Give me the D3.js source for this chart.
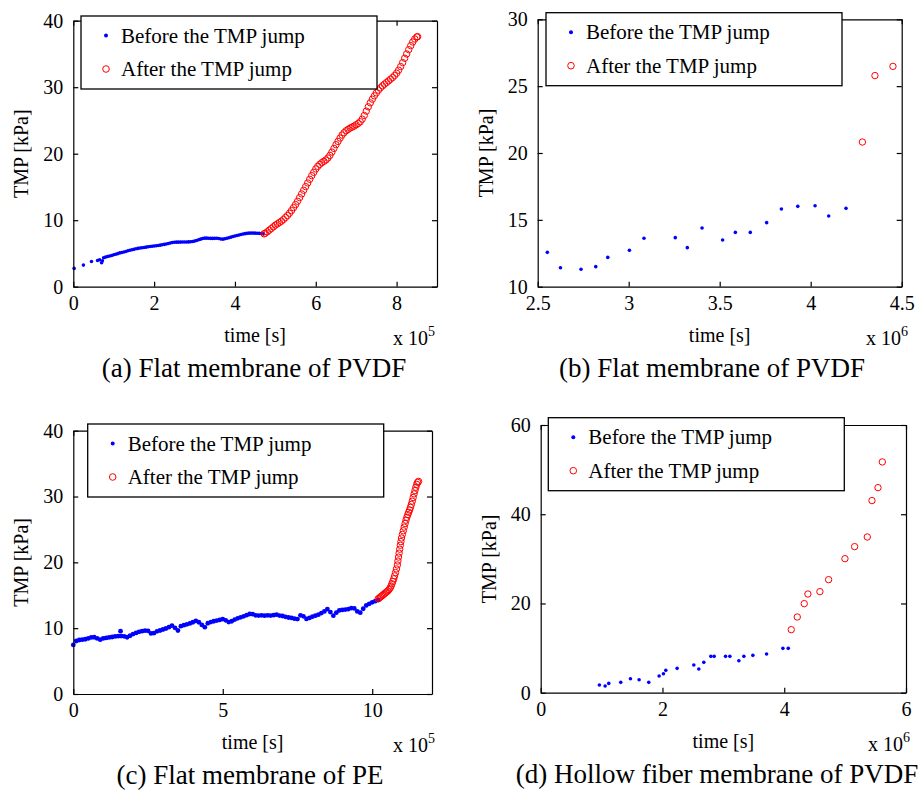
<!DOCTYPE html>
<html><head><meta charset="utf-8">
<script src="https://cdn.jsdelivr.net/npm/d3@7"></script>
<style>
body{margin:0;background:#fff}
svg{display:block}
text{font-family:"Liberation Serif","Times New Roman",serif;fill:#000}
</style>
</head><body>
<svg id="chart" width="921" height="790"></svg>
<script>
// ---------- text ----------
const legendLabels = ["Before the TMP jump", "After the TMP jump"];
const xAxisLabel = "time [s]";
const yAxisLabel = "TMP [kPa]";
const captions = ["(a) Flat membrane of PVDF", "(b) Flat membrane of PVDF",
                  "(c) Flat membrane of PE", "(d) Hollow fiber membrane of PVDF"];
const exponents = ["5", "6", "5", "6"];

// ---------- ticks ----------
const xTicksA = [0, 2, 4, 6, 8],          yTicksA = [0, 10, 20, 30, 40];
const xTicksB = [2.5, 3, 3.5, 4, 4.5],    yTicksB = [10, 15, 20, 25, 30];
const xTicksC = [0, 5, 10],               yTicksC = [0, 10, 20, 30, 40];
const xTicksD = [0, 2, 4, 6],             yTicksD = [0, 20, 40, 60];
const xDomainA = [0, 9],   yDomainA = [0, 40];
const xDomainB = [2.5, 4.5], yDomainB = [10, 30];
const xDomainC = [0, 12],  yDomainC = [0, 40];
const xDomainD = [0, 6],   yDomainD = [0, 60];

// ---------- data: [time, TMP] ----------
const beforeA = [[0.02,2.75],[0.25,3.25],[0.45,3.8],[0.6,3.95],[0.65,4.05],[0.7,3.6],[0.72,3.9],
[0.75,4.35],[0.80,4.45],[0.85,4.55],[0.90,4.62],[0.95,4.70],[1.00,4.80],[1.05,4.88],[1.10,4.98],
[1.15,5.08],[1.20,5.15],[1.25,5.22],[1.30,5.30],[1.35,5.40],[1.40,5.48],[1.45,5.55],[1.50,5.62],
[1.55,5.70],[1.60,5.76],[1.65,5.82],[1.70,5.86],[1.75,5.90],[1.80,5.95],[1.85,6.00],[1.90,6.04],
[1.95,6.08],[2.00,6.12],[2.05,6.15],[2.10,6.20],[2.15,6.25],[2.20,6.30],[2.25,6.36],[2.30,6.42],
[2.35,6.50],[2.40,6.58],[2.45,6.64],[2.50,6.68],[2.55,6.70],[2.60,6.70],[2.65,6.71],[2.70,6.72],
[2.75,6.72],[2.80,6.72],[2.85,6.74],[2.90,6.76],[2.95,6.80],[3.00,6.86],[3.05,6.94],[3.10,7.05],
[3.15,7.15],[3.20,7.25],[3.25,7.30],[3.30,7.30],[3.35,7.28],[3.40,7.26],[3.45,7.26],[3.50,7.27],
[3.55,7.28],[3.60,7.25],[3.65,7.18],[3.70,7.15],[3.75,7.20],[3.80,7.28],[3.85,7.36],[3.90,7.45],
[3.95,7.55],[4.00,7.62],[4.05,7.70],[4.10,7.78],[4.15,7.85],[4.20,7.92],[4.25,7.98],[4.30,8.02],
[4.35,8.05],[4.40,8.06],[4.45,8.06],[4.50,8.05],[4.55,8.04],[4.60,8.02],[4.65,8.00],[4.70,7.95]];

const afterA = [[4.72,7.95],[4.75,8.05],[4.80,8.25],[4.85,8.50],[4.90,8.75],[4.95,9.00],[5.00,9.25],
[5.05,9.45],[5.10,9.65],[5.15,9.85],[5.20,10.10],[5.25,10.40],[5.30,10.70],[5.35,11.05],[5.40,11.45],
[5.45,11.90],[5.50,12.35],[5.55,12.85],[5.60,13.40],[5.65,13.95],[5.70,14.50],[5.75,15.05],[5.80,15.60],
[5.85,16.15],[5.90,16.70],[5.95,17.20],[6.00,17.70],[6.05,18.10],[6.10,18.40],[6.15,18.65],[6.20,18.85],
[6.25,19.05],[6.30,19.35],[6.35,19.75],[6.40,20.25],[6.45,20.80],[6.50,21.35],[6.55,21.85],[6.60,22.35],
[6.65,22.80],[6.70,23.15],[6.75,23.45],[6.80,23.65],[6.85,23.85],[6.90,24.00],[6.95,24.15],[7.00,24.35],
[7.05,24.55],[7.10,24.80],[7.15,25.20],[7.20,25.75],[7.25,26.40],[7.30,27.05],[7.35,27.65],[7.40,28.20],
[7.45,28.70],[7.50,29.15],[7.55,29.55],[7.60,29.90],[7.65,30.20],[7.70,30.45],[7.75,30.70],[7.80,30.95],
[7.85,31.20],[7.90,31.45],[7.95,31.75],[8.00,32.10],[8.05,32.55],[8.10,33.10],[8.15,33.70],[8.20,34.35],
[8.25,35.00],[8.30,35.65],[8.35,36.25],[8.40,36.80],[8.45,37.25],[8.50,37.55],[8.52,37.60]];

const beforeB = [[2.553,12.57],[2.625,11.42],[2.738,11.30],[2.819,11.50],[2.885,12.19],[3.004,12.72],
[3.084,13.62],[3.256,13.67],[3.322,12.92],[3.403,14.39],[3.516,13.49],[3.586,14.06],[3.668,14.06],
[3.758,14.79],[3.839,15.81],[3.929,16.01],[4.024,16.06],[4.099,15.29],[4.194,15.86]];
const afterB = [[4.284,20.82],[4.353,25.79],[4.452,26.48]];

const beforeC = [[0.0,7.46],[0.1,8.05],[0.2,8.20],[0.3,8.25],[0.4,8.32],[0.5,8.45],[0.6,8.60],[0.7,8.62],
[0.8,8.45],[0.9,8.25],[1.0,8.45],[1.1,8.52],[1.2,8.60],[1.3,8.66],[1.4,8.74],[1.5,8.78],[1.58,9.54],[1.6,8.80],
[1.7,8.76],[1.8,8.62],[1.9,8.85],[2.0,9.10],[2.1,9.28],[2.2,9.45],[2.3,9.55],[2.4,9.62],[2.5,9.60],
[2.6,9.20],[2.7,9.25],[2.8,9.52],[2.9,9.65],[3.0,9.80],[3.1,9.95],[3.2,10.15],[3.3,10.40],[3.4,10.05],
[3.5,9.65],[3.6,10.30],[3.7,10.45],[3.8,10.58],[3.9,10.72],[4.0,10.90],[4.1,11.10],[4.2,10.90],
[4.3,10.50],[4.4,10.15],[4.5,10.75],[4.6,10.92],[4.7,11.05],[4.8,11.15],[4.9,11.25],[5.0,11.38],
[5.1,11.20],[5.2,10.92],[5.3,11.05],[5.4,11.30],[5.5,11.50],[5.6,11.65],[5.7,11.80],[5.8,11.98],
[5.9,12.15],[6.0,12.12],[6.1,11.95],[6.2,11.92],[6.3,11.95],[6.4,11.90],[6.5,11.95],[6.6,11.92],
[6.7,11.98],[6.8,12.05],[6.9,11.92],[7.0,11.85],[7.1,11.72],[7.2,11.62],[7.3,11.55],[7.4,11.45],
[7.5,11.38],[7.6,11.95],[7.7,11.80],[7.8,11.40],[7.9,11.55],[8.0,11.75],[8.1,11.90],[8.2,12.05],
[8.3,12.30],[8.4,12.55],[8.5,12.90],[8.6,12.45],[8.7,11.90],[8.8,12.35],[8.9,12.70],[9.0,12.78],
[9.1,12.82],[9.2,12.88],[9.3,13.05],[9.4,13.00],[9.5,12.55],[9.6,12.35],[9.7,12.95],[9.8,13.45],
[9.9,13.70],[10.0,13.92],[10.1,14.10],[10.2,14.30]];

const afterC = [[10.20,14.45],[10.24,14.60],[10.28,14.75],[10.32,14.90],[10.36,15.05],[10.40,15.20],
[10.44,15.35],[10.48,15.50],[10.52,15.65],[10.56,15.85],[10.60,16.10],[10.63,16.40],[10.66,16.75],
[10.69,17.10],[10.72,17.50],[10.75,17.95],[10.78,18.45],[10.81,19.00],[10.84,19.60],[10.86,20.20],
[10.88,20.80],[10.90,21.40],[10.92,22.00],[10.94,22.60],[10.96,23.15],[10.98,23.70],[11.01,24.25],
[11.04,24.80],[11.07,25.35],[11.10,25.90],[11.13,26.40],[11.16,26.85],[11.19,27.25],[11.22,27.60],
[11.25,27.95],[11.28,28.35],[11.31,28.80],[11.34,29.30],[11.37,29.85],[11.40,30.40],[11.43,30.90],
[11.46,31.40],[11.49,31.85],[11.52,32.15],[11.55,32.30]];

const beforeD = [[0.964,1.72],[1.058,1.49],[1.118,2.09],[1.315,2.32],[1.474,3.14],[1.616,2.91],
[1.775,2.32],[1.945,3.74],[2.016,4.26],[2.055,5.01],[2.241,5.46],[2.515,6.20],[2.597,5.31],
[2.679,6.80],[2.795,8.15],[2.849,8.15],[3.036,8.15],[3.107,8.15],[3.255,7.17],[3.337,8.15],
[3.485,8.37],[3.710,8.67],[3.978,9.94],[4.066,9.94]];
const afterD = [[4.115,14.13],[4.214,16.97],[4.329,19.96],[4.389,22.12],[4.586,22.65],[4.729,25.34],
[4.997,30.04],[5.156,32.74],[5.364,34.90],[5.441,43.05],[5.540,45.96],[5.611,51.72]];

// ---------- layout ----------
const panels = [
  {x0:73.3, x1:437,  y0:20.7, y1:286.7, xd:xDomainA, yd:yDomainA, xt:xTicksA, yt:yTicksA, b:beforeA, a:afterA, lx:81,    ly:16,    cap:254, ex:393, rb:1.8},
  {x0:537.7,x1:901.7,y0:19.3, y1:286.7, xd:xDomainB, yd:yDomainB, xt:xTicksB, yt:yTicksB, b:beforeB, a:afterB, lx:546,   ly:12.7,  cap:712, ex:866, rb:1.8},
  {x0:73.3, x1:432,  y0:430.7,y1:694,   xd:xDomainC, yd:yDomainC, xt:xTicksC, yt:yTicksC, b:beforeC, a:afterC, lx:87.7,  ly:424,   cap:250, ex:393, rb:2.4},
  {x0:540.7,x1:906,  y0:425,  y1:692.7, xd:xDomainD, yd:yDomainD, xt:xTicksD, yt:yTicksD, b:beforeD, a:afterD, lx:548.3, ly:417.7, cap:717, ex:868, rb:1.8}
];

const svg = d3.select("#chart");
const FONT = "Liberation Serif, Times New Roman, serif";

panels.forEach((p, i) => {
  const g = svg.append("g");
  const x = d3.scaleLinear().domain(p.xd).range([p.x0, p.x1]);
  const y = d3.scaleLinear().domain(p.yd).range([p.y1, p.y0]);

  // data
  g.append("g").selectAll("circle").data(p.b).join("circle")
    .attr("cx", d => x(d[0])).attr("cy", d => y(d[1])).attr("r", p.rb).attr("fill", "#0000ff");
  g.append("g").selectAll("circle").data(p.a).join("circle")
    .attr("cx", d => x(d[0])).attr("cy", d => y(d[1])).attr("r", 3.2)
    .attr("fill", "none").attr("stroke", "#ff0000").attr("stroke-width", 1);

  const tl = 5;
  const styleAxis = sel => {
    sel.attr("font-family", FONT).attr("font-size", 20);
    sel.selectAll("path,line").attr("stroke", "#000").attr("stroke-width", 1.2);
    sel.selectAll("text").attr("fill", "#000");
  };
  g.append("g").attr("transform", `translate(0,${p.y1})`)
    .call(d3.axisBottom(x).tickValues(p.xt).tickFormat(d => String(d)).tickSizeInner(-tl).tickSizeOuter(0).tickPadding(9))
    .call(styleAxis);
  g.append("g").attr("transform", `translate(0,${p.y0})`)
    .call(d3.axisTop(x).tickValues(p.xt).tickFormat("").tickSizeInner(-tl).tickSizeOuter(0))
    .call(styleAxis);
  g.append("g").attr("transform", `translate(${p.x0},0)`)
    .call(d3.axisLeft(y).tickValues(p.yt).tickFormat(d => String(d)).tickSizeInner(-tl).tickSizeOuter(0).tickPadding(10))
    .call(styleAxis);
  g.append("g").attr("transform", `translate(${p.x1},0)`)
    .call(d3.axisRight(y).tickValues(p.yt).tickFormat("").tickSizeInner(-tl).tickSizeOuter(0))
    .call(styleAxis);

  // axis labels
  g.append("text").attr("x", (p.x0 + p.x1) / 2).attr("y", p.y1 + 55)
    .attr("text-anchor", "middle").attr("font-size", 20).text(xAxisLabel);
  g.append("text").attr("transform", `translate(${p.x0 - 45},${(p.y0 + p.y1) / 2}) rotate(-90)`)
    .attr("text-anchor", "middle").attr("font-size", 20).text(yAxisLabel);
  const ex = g.append("text").attr("x", p.ex).attr("y", p.y1 + 58).attr("font-size", 20);
  ex.append("tspan").text("x 10");
  ex.append("tspan").attr("font-size", 14).attr("dy", -9).text(exponents[i]);

  // caption
  g.append("text").attr("x", p.cap).attr("y", p.y1 + 90)
    .attr("text-anchor", "middle").attr("font-size", 27).text(captions[i]);

  // legend
  const lg = g.append("g").attr("transform", `translate(${p.lx},${p.ly})`);
  lg.append("rect").attr("width", 296).attr("height", 73)
    .attr("fill", "#fff").attr("stroke", "#000").attr("stroke-width", 1.3);
  const rows = [19.5, 53];
  lg.append("circle").attr("cx", 25).attr("cy", rows[0]).attr("r", 2).attr("fill", "#0000ff");
  lg.append("circle").attr("cx", 25).attr("cy", rows[1]).attr("r", 3.3)
    .attr("fill", "none").attr("stroke", "#ff0000").attr("stroke-width", 1);
  legendLabels.forEach((t, k) => {
    lg.append("text").attr("x", 40).attr("y", rows[k] + 7).attr("font-size", 21).text(t);
  });
});
</script>
</body></html>
